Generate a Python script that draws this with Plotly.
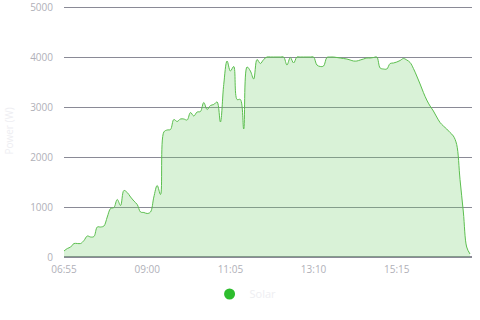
import plotly.graph_objects as go

# 5-minute samples starting at 06:55
start_label = "06:55"
step_minutes = 5
power_w = [
    120, 170, 200, 270, 270, 270, 330, 420, 400, 410,
    600, 600, 620, 800, 970, 990, 1150, 1030, 1330, 1290,
    1200, 1120, 1050, 900, 890, 870, 900, 1200, 1430, 1250,
    2500, 2540, 2550, 2750, 2710, 2760, 2760, 2740, 2890, 2820,
    2900, 2910, 3090, 2950, 3030, 3050, 3100, 2700, 3450, 3920,
    3720, 3810, 3150, 3150, 2560, 3800, 3720, 3560, 3950, 3870,
    3950, 4000, 4000, 4000, 4000, 4000, 4000, 3840, 3990, 3880,
    4000, 4000, 4000, 4000, 4000, 4000, 3840, 3810, 3820, 3990,
    4000, 4000, 3990, 3980, 3970, 3960, 3940, 3920, 3920, 3940,
    3960, 3980, 3980, 3990, 4000, 3780, 3760, 3760, 3870, 3880,
    3900, 3930, 3970, 3940, 3890, 3770, 3620, 3460, 3290, 3140,
    3020, 2920, 2800, 2690, 2620, 2560, 2490, 2420, 2250, 1550,
    900, 200, 60,
]
minutes = [i * step_minutes for i in range(len(power_w))]
tick_minutes = [0, 125, 250, 375, 500]
tick_labels = ["06:55", "09:00", "11:05", "13:10", "15:15"]
y_ticks = [0, 1000, 2000, 3000, 4000, 5000]
series_name = "Solar"

fig = go.Figure()
fig.add_trace(go.Scatter(
    x=minutes, y=power_w, mode="lines",
    line=dict(color="#5cbf4f", width=1, shape="spline"),
    fill="tozeroy", fillcolor="rgba(120,210,110,0.28)",
    showlegend=False, hoverinfo="skip",
))
fig.add_trace(go.Scatter(
    x=[None], y=[None], mode="markers", name=series_name,
    marker=dict(color="#2ebd2e", size=11, symbol="circle"),
))

font = dict(family="Open Sans, Lato, sans-serif", size=10, color="#b0b0b8")
fig.update_layout(
    width=480, height=320,
    margin=dict(l=64, r=8, t=5, b=63, autoexpand=False),
    paper_bgcolor="white", plot_bgcolor="white",
    font=font,
    showlegend=True,
    legend=dict(orientation="h", x=0.445, xanchor="center",
                yref="container", y=26 / 320, yanchor="middle",
                font=dict(family="Open Sans, sans-serif", size=11, color="#eeeef2")),
    xaxis=dict(range=[0, 613], tickvals=tick_minutes, ticktext=tick_labels,
               showgrid=False, zeroline=False, showline=False, ticks="outside",
               ticklen=3, tickcolor="rgba(0,0,0,0)", tickfont=font,
               ticklabeloverflow="allow"),
    yaxis=dict(range=[0, 5040], tickvals=y_ticks, showgrid=True,
               gridcolor="#8a8a96", gridwidth=1, zeroline=True,
               zerolinecolor="#8a8a96", zerolinewidth=2, showline=False,
               ticks="outside", ticklen=8, tickcolor="rgba(0,0,0,0)", tickfont=font,
               ticklabeloverflow="allow",
               title=dict(text="Power (W)", standoff=14,
                          font=dict(family="Open Sans, sans-serif", size=10, color="#eeeef2"))),
)
fig.write_html("out.html")
